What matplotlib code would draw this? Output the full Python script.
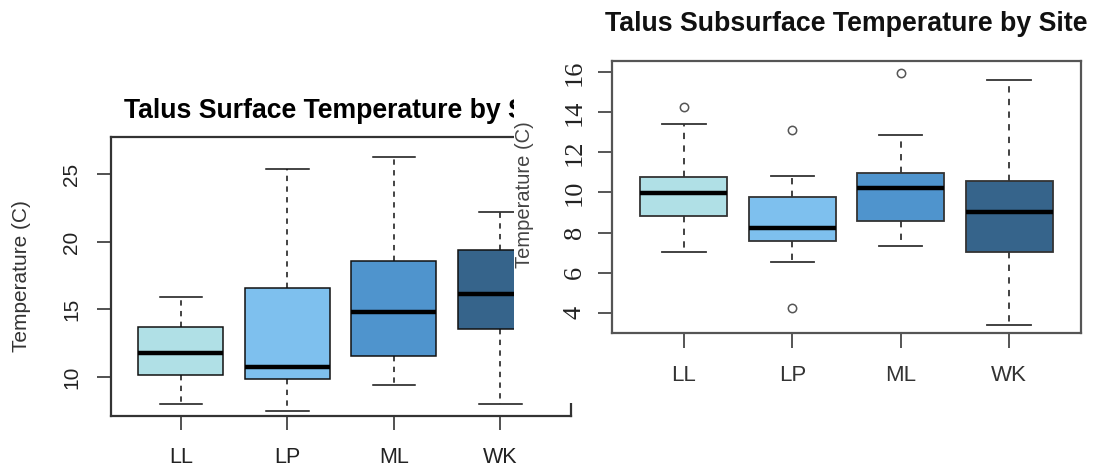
import matplotlib
matplotlib.use("Agg")
import matplotlib.pyplot as plt
from matplotlib.patches import Rectangle

# ---------------- data ----------------
sites = ["LL", "LP", "ML", "WK"]
box_colors = ["#B0E0E6", "#7EC0EE", "#4F94CD", "#36648B"]

# Talus surface temperature (left panel)
surf_whislo = [8.00, 7.48, 9.38, 8.00]
surf_q1 = [10.17, 9.88, 11.58, 13.58]
surf_med = [11.80, 10.72, 14.79, 16.12]
surf_q3 = [13.68, 16.59, 18.59, 19.40]
surf_whishi = [15.90, 25.40, 26.31, 22.19]
surf_fliers = [[], [], [], []]
surf_yticks = [10, 15, 20, 25]

# Talus subsurface temperature (right panel)
sub_whislo = [7.01, 6.52, 7.31, 3.37]
sub_q1 = [8.85, 7.56, 8.58, 7.01]
sub_med = [9.96, 8.24, 10.21, 9.01]
sub_q3 = [10.75, 9.79, 10.98, 10.59]
sub_whishi = [13.40, 10.82, 12.85, 15.62]
sub_fliers = [[14.29], [13.14, 4.23], [15.95], []]
sub_yticks = [4, 6, 8, 10, 12, 14, 16]

W, H = 1095, 469
fig = plt.figure(figsize=(W / 100, H / 100), dpi=100)
fig.patch.set_facecolor("white")

SANS = ["Liberation Sans", "DejaVu Sans"]
SERIF = ["Liberation Serif", "DejaVu Serif"]


def px_axes(x0, y0, x1, y1, z):
    return fig.add_axes([x0 / W, 1 - y1 / H, (x1 - x0) / W, (y1 - y0) / H], zorder=z)


def make_stats(lo, q1, med, q3, hi, fl):
    return [dict(whislo=a, q1=b, med=c, q3=d, whishi=e, fliers=f, label=s)
            for a, b, c, d, e, f, s in zip(lo, q1, med, q3, hi, fl, sites)]


def draw_box(ax, stats, edge, spine_col, lw):
    bp = ax.bxp(stats, positions=range(1, len(sites) + 1), widths=0.8,
                capwidths=0.4, patch_artist=True, showfliers=True,
                boxprops=dict(edgecolor=edge, linewidth=lw),
                medianprops=dict(color="black", linewidth=3.2, solid_capstyle="butt"),
                whiskerprops=dict(color=edge, linewidth=lw, linestyle=(0, (3.5, 3.5))),
                capprops=dict(color=edge, linewidth=lw),
                flierprops=dict(marker="o", markerfacecolor="none",
                                markeredgecolor="#555555", markersize=6,
                                markeredgewidth=1.1))
    for patch, c in zip(bp["boxes"], box_colors):
        patch.set_facecolor(c)
    ax.set_xlim(0.34, 4.66)
    for sp in ax.spines.values():
        sp.set_color(spine_col)
        sp.set_linewidth(1.6)


# ---------------- left panel ----------------
axL = px_axes(110.5, 137.3, 570.7, 416.0, 1)
draw_box(axL, make_stats(surf_whislo, surf_q1, surf_med, surf_q3, surf_whishi, surf_fliers),
         "#111111", "#333333", 1.1)
axL.set_ylim(7.12, 27.74)
axL.set_yticks(surf_yticks)
axL.set_yticklabels([str(t) for t in surf_yticks], rotation=90, va="center",
                    fontsize=15, family=SANS, color="#222222")
axL.set_xticks(range(1, len(sites) + 1))
axL.set_xticklabels(sites, fontsize=15.5, family=SANS, color="#222222")
axL.tick_params(axis="y", length=10, width=1.2, pad=11, color="#333333")
axL.tick_params(axis="x", length=10, width=1.2, pad=12, color="#333333")

fig.text(22 / W, 1 - 276 / H, "Temperature (C)", rotation=90, ha="center", va="center",
         fontsize=15, family=SANS, color="#333333", zorder=1.5)
fig.text(340 / W, 1 - 117.5 / H, "Talus Surface Temperature by Site", ha="center",
         va="baseline", fontsize=19.2, fontweight="bold", family=SANS, color="black",
         zorder=1.5)

# ---------------- cover (second screenshot pasted on top) ----------------
fig.add_artist(Rectangle((514 / W, 1 - 403 / H), 1 - 514 / W, 403 / H,
                         transform=fig.transFigure, facecolor="white",
                         edgecolor="none", zorder=2))

# ---------------- right panel ----------------
axR = px_axes(612.3, 60.7, 1080.7, 332.7, 3)
draw_box(axR, make_stats(sub_whislo, sub_q1, sub_med, sub_q3, sub_whishi, sub_fliers),
         "#333333", "#555555", 1.3)
axR.set_ylim(3.0, 16.58)
axR.set_yticks(sub_yticks)
axR.set_yticklabels([str(t) for t in sub_yticks], rotation=90, va="center",
                    fontsize=19, family=SERIF, color="#222222")
axR.set_xticks(range(1, len(sites) + 1))
axR.set_xticklabels(sites, fontsize=16, family=SANS, color="#333333")
axR.tick_params(axis="y", length=10, width=1.4, pad=9, color="#555555")
axR.tick_params(axis="x", length=11, width=1.4, pad=12, color="#555555")

fig.text(524 / W, 1 - 195 / H, "Temperature (C)", rotation=90, ha="center", va="center",
         fontsize=14.5, family=SANS, color="#444444", zorder=4)
fig.text(846 / W, 1 - 30.7 / H, "Talus Subsurface Temperature by Site", ha="center",
         va="baseline", fontsize=19.3, fontweight="bold", family=SANS, color="#111111",
         zorder=4)

fig.savefig("out.png", dpi=100, facecolor="white")
